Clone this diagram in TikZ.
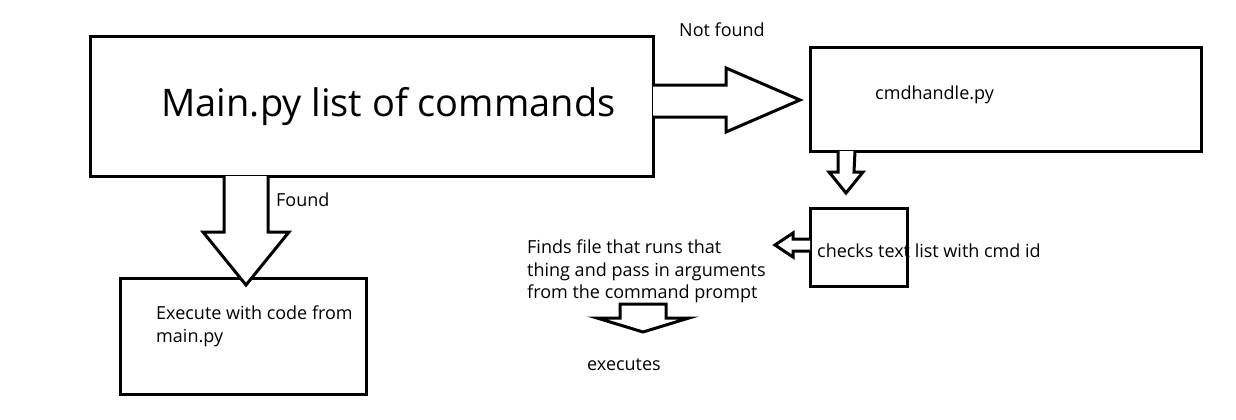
\documentclass[tikz,border=0pt]{standalone}
\usepackage{fontspec}
\setmainfont{Open Sans}
\usetikzlibrary{positioning}

\begin{document}
\begin{tikzpicture}[
    x=1pt, y=-1pt,
    box/.style={draw, line width=3pt, outer sep=0pt, inner sep=0pt, fill=white},
    blockarrow/.style={draw, line width=3pt, line join=miter, fill=white},
    note/.style={inner sep=0pt, font=\fontsize{18}{22.5}\selectfont, align=left},
]
\useasboundingbox[fill=white] (0,0) rectangle (1236,420);

% Boxes
\node[box, minimum width=563pt, minimum height=139pt, font=\fontsize{38}{44}\selectfont] (main) at (371.5,106.5) {\hspace*{34pt}Main.py list of commands};
\node[box, minimum width=391pt, minimum height=103pt] (cmd) at (1005.5,99.5) {};
\node[box, minimum width=246pt, minimum height=116pt] (exe) at (243,336) {};

% Labels
\node[note, anchor=base west] (notfound) at (679,37) {Not found};
\node[note, anchor=base west] (found) at (276,206) {Found};
\node[note, anchor=base west] (cmdlabel) at (875,99) {cmdhandle.py};
\node[note, anchor=north west] (exelabel) at (156,306) {Execute with code from\\main.py};
\node[note, anchor=base west] (chklabel) at (817,257) {checks text list with cmd id};
\node[note, anchor=north west] (finds) at (527,240) {Finds file that runs that\\thing and pass in arguments\\from the command prompt};
\node[note, anchor=base west] (executes) at (587,370) {executes};

% checks box drawn over its text
\node[box, fill=none, minimum width=97pt, minimum height=78pt] (chk) at (858.5,247) {};

% Block arrows
\draw[blockarrow] (main.east |- 0,85) -- ++(73,0) -- ++(0,-17) -- ([xshift=-10pt]cmd.west |- 0,100)
  -- (726,132) -- ++(0,-15) -- (main.east |- 0,117);
\draw[blockarrow] (main.south -| 224,0) -- ++(0,56) -- ++(-21,0) -- ++(43,53) -- ++(43,-53)
  -- ++(-21,0) -- (main.south -| 268,0);
\draw[blockarrow] (cmd.south -| 838,0) -- ++(0,21) -- ++(-9,0) -- ++(17,21) -- ++(17,-21)
  -- ++(-9,0) -- (cmd.south -| 855,0);
\draw[blockarrow] (chk.west |- 0,239) -- ++(-17,0) -- ++(0,-6) -- ++(-18,12) -- ++(18,12)
  -- ++(0,-6) -- (chk.west |- 0,251);
\draw[blockarrow] (620,304) -- ++(0,14) -- ++(-23,0) -- ++(46,14) -- ++(46,-14)
  -- ++(-23,0) -- ++(0,-14) -- cycle;

\end{tikzpicture}
\end{document}
